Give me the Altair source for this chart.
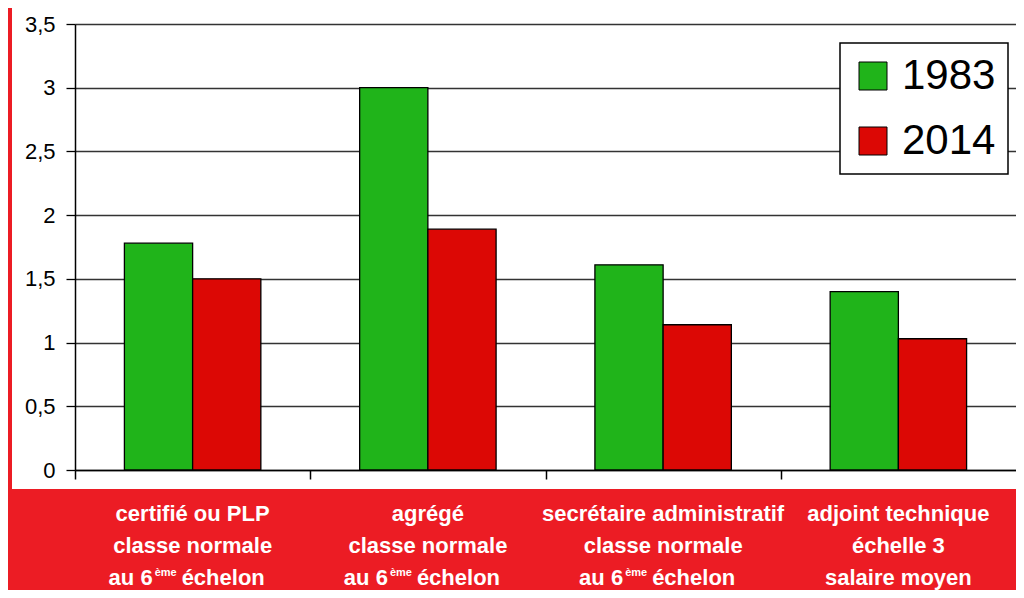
import altair as alt
import pandas as pd

# ---- data ----
categories = ["certifié ou PLP", "agrégé", "secrétaire administratif", "adjoint technique"]
years = ["1983", "2014"]
values_1983 = [1.78, 3.00, 1.61, 1.40]
values_2014 = [1.50, 1.89, 1.14, 1.03]

label_line1 = ["certifié ou PLP", "agrégé", "secrétaire administratif", "adjoint technique"]
label_line2 = ["classe normale", "classe normale", "classe normale", "échelle 3"]
label_line3 = ["au 6", "au 6", "au 6", "salaire moyen"]
label_sup = ["ème", "ème", "ème", ""]
label_line3_end = ["échelon", "échelon", "échelon", ""]

y_ticks = [0, 0.5, 1, 1.5, 2, 2.5, 3, 3.5]

# ---- styling ----
GREEN = "#20B41A"
RED_BAR = "#DC0805"
RED_BG = "#EC1C24"
FONT = "Liberation Sans"

W, H = 941, 446

rows = []
for c, a, b in zip(categories, values_1983, values_2014):
    rows.append({"category": c, "year": years[0], "value": a})
    rows.append({"category": c, "year": years[1], "value": b})
df = pd.DataFrame(rows)

labels = pd.DataFrame({
    "category": categories,
    "l1": label_line1,
    "l2": label_line2,
    "l3": label_line3,
    "sup": label_sup,
    "l3end": label_line3_end,
})

x_enc = alt.X(
    "category:N",
    sort=categories,
    scale=alt.Scale(domain=categories, paddingInner=0.42, paddingOuter=0.21),
    axis=alt.Axis(
        title=None, labels=False, grid=False,
        domainColor="black", domainWidth=1.5,
        tickColor="black", tickSize=9, tickWidth=1.5,
        bandPosition=0, tickOffset=-49.4,
    ),
)

bars = alt.Chart(df).mark_bar(stroke="black", strokeWidth=1.3).encode(
    x=x_enc,
    xOffset=alt.XOffset("year:N", sort=years, scale=alt.Scale(paddingInner=0, paddingOuter=0)),
    y=alt.Y(
        "value:Q",
        scale=alt.Scale(domain=[0, 3.5], nice=False, zero=True),
        axis=alt.Axis(
            title=None, values=y_ticks, grid=True,
            gridColor="#333333", gridWidth=1.3,
            domainColor="black", domainWidth=1.5,
            tickColor="black", tickSize=9, tickWidth=1.3,
            labelFont=FONT, labelFontSize=22, labelColor="black",
            labelPadding=11,
            labelExpr="replace(format(datum.value, '~g'), '.', ',')",
        ),
    ),
    color=alt.Color(
        "year:N",
        scale=alt.Scale(domain=years, range=[GREEN, RED_BAR]),
        legend=alt.Legend(
            title=None, orient="none", legendX=765, legendY=19,
            direction="vertical",
            symbolType="square", symbolSize=784,
            symbolStrokeColor="black", symbolStrokeWidth=1,
            labelFont=FONT, labelFontSize=42, labelColor="black",
            labelOffset=8, rowPadding=23, padding=12,
            strokeColor="black", fillColor="white", cornerRadius=0,
        ),
    ),
)

# red frame strips (decoration)
frame_src = pd.DataFrame({"k": [0]})
red_bottom = alt.Chart(frame_src).mark_rect(color=RED_BG).encode(
    x=alt.value(-67), x2=alt.value(W), y=alt.value(465), y2=alt.value(570)
)
red_left = alt.Chart(frame_src).mark_rect(color=RED_BG).encode(
    x=alt.value(-67), x2=alt.value(-63), y=alt.value(-16), y2=alt.value(466)
)

txt = dict(font=FONT, fontSize=22, fontWeight="bold", color="white", baseline="alphabetic")

t1 = alt.Chart(labels).mark_text(align="center", **txt).encode(
    x=x_enc, y=alt.value(497), text="l1:N"
)
t2 = alt.Chart(labels).mark_text(align="center", **txt).encode(
    x=x_enc, y=alt.value(529), text="l2:N"
)
t3_plain = alt.Chart(labels).transform_filter("datum.sup == ''").mark_text(
    align="center", **txt
).encode(x=x_enc, y=alt.value(561), text="l3:N")
t3_a = alt.Chart(labels).transform_filter("datum.sup != ''").mark_text(
    align="right", dx=-40, **txt
).encode(x=x_enc, y=alt.value(561), text="l3:N")
t3_sup = alt.Chart(labels).transform_filter("datum.sup != ''").mark_text(
    align="left", dx=-38, dy=-9, font=FONT, fontSize=11, fontWeight="bold",
    color="white", baseline="alphabetic"
).encode(x=x_enc, y=alt.value(561), text="sup:N")
t3_b = alt.Chart(labels).transform_filter("datum.sup != ''").mark_text(
    align="left", dx=-11, **txt
).encode(x=x_enc, y=alt.value(561), text="l3end:N")

chart = alt.layer(
    red_bottom, red_left, bars, t1, t2, t3_plain, t3_a, t3_sup, t3_b
).properties(
    width=W, height=H,
    autosize=alt.AutoSizeParams(type="none"),
    padding={"left": 67, "top": 16, "right": 0, "bottom": 120},
    background="white",
).configure_view(strokeWidth=0).configure_legend(strokeWidth=1.5)

chart.save("out.html", embed_options={"renderer": "svg", "actions": False})
